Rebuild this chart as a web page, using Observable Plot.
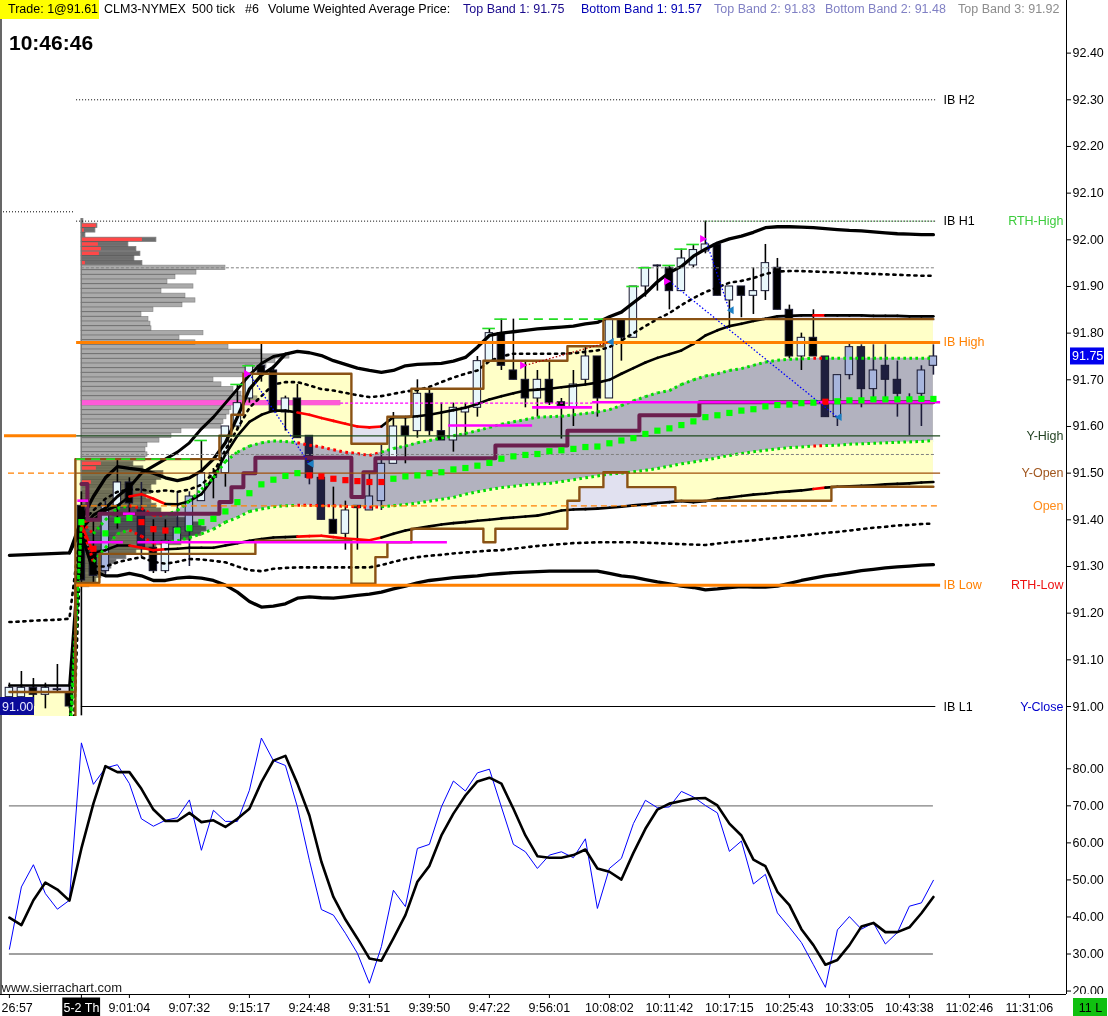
<!DOCTYPE html>
<html>
<head>
<meta charset="utf-8">
<script src="https://cdn.jsdelivr.net/npm/d3@7"></script>
<script src="https://cdn.jsdelivr.net/npm/@observablehq/plot@0.6"></script>
<style>
html,body{margin:0;padding:0;background:#fff;}
body{width:1108px;height:1016px;position:relative;overflow:hidden;font-family:"Liberation Sans",Arial,sans-serif;}
#main{position:absolute;left:0;top:0;}
#osc{position:absolute;left:0;top:716px;}
.hd{position:absolute;top:2px;font-size:12.5px;line-height:15px;white-space:nowrap;}
#tradebox{position:absolute;left:0;top:0;width:99px;height:19px;background:#ffff00;}
#clock{position:absolute;left:9px;top:32px;font-size:21px;line-height:21px;font-weight:bold;color:#000;}
</style>
</head>
<body>
<div id="main"></div>
<div id="osc"></div>
<div id="tradebox"></div>
<div class="hd" style="left:8px;color:#000">Trade: 1@91.61</div>
<div class="hd" style="left:104px;color:#000">CLM3-NYMEX</div>
<div class="hd" style="left:192px;color:#000">500 tick</div>
<div class="hd" style="left:245px;color:#000">#6</div>
<div class="hd" style="left:268px;color:#000">Volume Weighted Average Price:</div>
<div class="hd" style="left:463px;color:#1a0a8c">Top Band 1: 91.75</div>
<div class="hd" style="left:581px;color:#0000b4">Bottom Band 1: 91.57</div>
<div class="hd" style="left:714px;color:#8080c4">Top Band 2: 91.83</div>
<div class="hd" style="left:825px;color:#8080c4">Bottom Band 2: 91.48</div>
<div class="hd" style="left:958px;color:#8c8c8c">Top Band 3: 91.92</div>
<div id="clock">10:46:46</div>
<script>
// ===================== DATA =====================
// time axis (bar index of each label)
const timeTickBars = [0, 6, 10, 15, 20, 25, 30, 35, 40, 45, 50, 55, 60, 65, 70, 75, 80, 85];
const timeTickLabels = ["26:57", "5-2 Th", "9:01:04", "9:07:32", "9:15:17", "9:24:48", "9:31:51", "9:39:50", "9:47:22", "9:56:01", "10:08:02", "10:11:42", "10:17:15", "10:25:43", "10:33:05", "10:43:38", "11:02:46", "11:31:06"];
const priceTicks = [91.00, 91.10, 91.20, 91.30, 91.40, 91.50, 91.60, 91.70, 91.80, 91.90, 92.00, 92.10, 92.20, 92.30, 92.40];
const oscTicks = [20, 30, 40, 50, 60, 70, 80];
const oscRefLevels = [70, 30];

// 500-tick candles (bars 0..77)
const open = [91.02,91.02,91.04,91.025,91.035,91.03,91.43,91.33,91.29,91.43,91.48,91.42,91.34,91.29,91.35,91.375,91.44,91.49,91.50,91.60,91.66,91.73,91.72,91.63,91.66,91.58,91.49,91.40,91.37,91.43,91.42,91.44,91.52,91.60,91.59,91.67,91.59,91.57,91.63,91.64,91.74,91.80,91.72,91.70,91.66,91.70,91.652,91.64,91.70,91.75,91.66,91.83,91.79,91.90,91.945,91.94,91.89,91.945,91.975,91.99,91.87,91.90,91.88,91.89,91.94,91.85,91.75,91.79,91.75,91.62,91.71,91.77,91.68,91.73,91.70,91.67,91.67,91.73];
const high = [91.05,91.075,91.06,91.05,91.09,91.045,91.46,91.40,91.44,91.53,91.49,91.48,91.40,91.40,91.46,91.46,91.57,91.51,91.60,91.69,91.73,91.78,91.73,91.665,91.69,91.58,91.49,91.47,91.44,91.43,91.50,91.56,91.63,91.62,91.70,91.68,91.65,91.65,91.65,91.75,91.81,91.83,91.83,91.74,91.72,91.74,91.66,91.72,91.77,91.75,91.83,91.83,91.90,91.94,91.946,91.945,91.98,91.99,92.04,91.99,91.90,91.90,91.94,91.99,91.96,91.86,91.80,91.85,91.75,91.71,91.78,91.775,91.775,91.775,91.74,91.67,91.73,91.775];
const low = [90.99,91.00,91.00,90.995,91.03,90.995,90.98,91.26,91.28,91.38,91.41,91.32,91.285,91.285,91.35,91.30,91.44,91.445,91.47,91.59,91.65,91.695,91.63,91.59,91.575,91.475,91.40,91.37,91.335,91.335,91.42,91.42,91.52,91.52,91.575,91.58,91.57,91.545,91.58,91.62,91.74,91.72,91.70,91.64,91.62,91.645,91.573,91.60,91.69,91.62,91.66,91.74,91.79,91.877,91.89,91.85,91.89,91.94,91.97,91.88,91.81,91.833,91.84,91.87,91.85,91.745,91.72,91.75,91.62,91.60,91.70,91.64,91.66,91.66,91.62,91.58,91.60,91.71];
const close = [91.04,91.04,91.025,91.04,91.037,91.00,91.27,91.28,91.43,91.48,91.435,91.34,91.29,91.355,91.383,91.45,91.50,91.50,91.60,91.65,91.73,91.715,91.63,91.66,91.575,91.49,91.40,91.37,91.42,91.425,91.45,91.52,91.60,91.58,91.67,91.59,91.57,91.64,91.64,91.74,91.80,91.73,91.70,91.66,91.70,91.65,91.643,91.69,91.75,91.66,91.83,91.79,91.90,91.94,91.943,91.89,91.96,91.978,91.99,91.88,91.90,91.88,91.89,91.95,91.85,91.75,91.79,91.75,91.62,91.71,91.77,91.68,91.72,91.70,91.67,91.67,91.72,91.75];

// VWAP and its standard-deviation bands
const vwap = [null,null,null,null,null,null,91.395,91.338,91.371,91.399,91.404,91.395,91.380,91.377,91.377,91.382,91.395,91.402,91.418,91.438,91.457,91.476,91.486,91.494,91.500,91.495,91.493,91.488,91.485,91.483,91.481,91.481,91.488,91.493,91.495,91.500,91.502,91.508,91.511,91.516,91.522,91.531,91.536,91.539,91.541,91.547,91.549,91.552,91.556,91.557,91.564,91.570,91.575,91.584,91.591,91.596,91.603,91.611,91.620,91.624,91.629,91.634,91.637,91.643,91.646,91.647,91.650,91.651,91.653,91.654,91.656,91.656,91.658,91.658,91.658,91.658,91.659,91.659];
const vwapRedBars = [7, 11, 12, 13, 25, 26, 27, 28, 29, 30, 31, 68];
const band1Top = [90.93,90.93,90.93,90.93,90.93,90.93,91.395,91.37,91.40,91.425,91.43,91.425,91.41,91.41,91.42,91.44,91.465,91.49,91.525,91.545,91.558,91.565,91.569,91.568,91.565,91.56,91.556,91.55,91.545,91.542,91.538,91.545,91.553,91.558,91.565,91.57,91.575,91.58,91.585,91.591,91.598,91.605,91.61,91.615,91.62,91.621,91.622,91.625,91.628,91.631,91.636,91.645,91.655,91.664,91.672,91.677,91.69,91.70,91.708,91.713,91.72,91.724,91.731,91.738,91.742,91.744,91.745,91.746,91.746,91.746,91.746,91.746,91.746,91.746,91.746,91.746,91.746,91.746];
const band1Bottom = [90.90,90.90,90.90,90.90,90.90,90.90,91.39,91.31,91.34,91.37,91.378,91.365,91.35,91.352,91.355,91.362,91.37,91.38,91.395,91.405,91.418,91.423,91.428,91.43,91.431,91.431,91.43,91.43,91.429,91.428,91.427,91.428,91.43,91.433,91.436,91.44,91.444,91.448,91.455,91.46,91.465,91.469,91.472,91.475,91.477,91.478,91.482,91.486,91.49,91.494,91.498,91.50,91.503,91.506,91.51,91.515,91.52,91.524,91.528,91.533,91.538,91.542,91.546,91.549,91.552,91.555,91.556,91.558,91.559,91.56,91.562,91.563,91.564,91.565,91.566,91.567,91.568,91.570];
const band2Top = [91.045,91.045,91.045,91.045,91.045,91.045,91.395,91.40,91.42,91.43,91.45,91.455,91.445,91.434,91.433,91.44,91.455,91.49,91.54,91.58,91.61,91.625,91.634,91.634,91.63,91.625,91.618,91.612,91.606,91.60,91.598,91.60,91.62,91.62,91.622,91.625,91.63,91.635,91.64,91.648,91.658,91.665,91.671,91.677,91.679,91.681,91.684,91.687,91.69,91.694,91.70,91.713,91.725,91.737,91.747,91.755,91.763,91.777,91.795,91.806,91.815,91.82,91.826,91.831,91.836,91.837,91.838,91.838,91.838,91.838,91.838,91.838,91.837,91.837,91.837,91.836,91.836,91.836];
const band2Bottom = [90.95,90.95,90.95,90.95,90.95,90.95,91.39,91.33,91.335,91.345,91.345,91.34,91.335,91.337,91.338,91.34,91.34,91.34,91.345,91.35,91.355,91.359,91.362,91.363,91.364,91.365,91.366,91.363,91.36,91.358,91.356,91.362,91.37,91.377,91.382,91.386,91.39,91.393,91.395,91.398,91.40,91.403,91.405,91.407,91.409,91.414,91.42,91.422,91.423,91.424,91.426,91.428,91.431,91.433,91.436,91.438,91.44,91.438,91.44,91.445,91.448,91.451,91.454,91.456,91.459,91.461,91.463,91.466,91.469,91.471,91.472,91.473,91.474,91.476,91.477,91.478,91.48,91.481];
const band3Top = [91.181,91.182,91.184,91.185,91.186,91.188,91.395,91.42,91.445,91.46,91.465,91.465,91.46,91.463,91.46,91.465,91.475,91.50,91.55,91.595,91.64,91.665,91.69,91.695,91.695,91.688,91.68,91.677,91.672,91.667,91.663,91.665,91.67,91.675,91.678,91.685,91.695,91.705,91.713,91.72,91.74,91.75,91.756,91.756,91.756,91.756,91.756,91.757,91.76,91.763,91.77,91.784,91.80,91.815,91.83,91.843,91.86,91.875,91.888,91.898,91.908,91.912,91.918,91.927,91.932,91.933,91.933,91.932,91.931,91.93,91.929,91.928,91.927,91.926,91.925,91.924,91.923,91.923];
const band3Bottom = [90.70,90.70,90.70,90.70,90.70,90.70,91.39,91.30,91.30,91.309,91.315,91.32,91.31,91.306,91.31,91.316,91.315,91.312,91.309,91.30,91.292,91.29,91.295,91.297,91.298,91.298,91.298,91.298,91.298,91.298,91.298,91.303,91.31,91.316,91.32,91.323,91.325,91.328,91.33,91.332,91.334,91.335,91.338,91.341,91.344,91.346,91.348,91.35,91.351,91.352,91.352,91.352,91.352,91.351,91.35,91.349,91.348,91.347,91.346,91.349,91.352,91.354,91.356,91.359,91.361,91.364,91.366,91.369,91.372,91.374,91.377,91.38,91.383,91.385,91.388,91.389,91.391,91.392];
const band4Top = [91.324,91.325,91.326,91.327,91.328,91.329,91.40,91.45,91.49,91.514,91.51,91.507,91.50,91.49,91.484,91.49,91.505,91.53,91.565,91.62,91.68,91.71,91.727,91.755,91.761,91.758,91.752,91.741,91.733,91.725,91.72,91.716,91.72,91.73,91.733,91.734,91.735,91.74,91.748,91.77,91.795,91.80,91.803,91.806,91.809,91.811,91.813,91.815,91.82,91.823,91.835,91.845,91.865,91.885,91.91,91.93,91.943,91.965,91.98,91.993,92.002,92.008,92.016,92.026,92.028,92.028,92.027,92.026,92.024,92.022,92.02,92.019,92.017,92.015,92.013,92.012,92.011,92.011];
const band4Bottom = [null,null,null,null,null,null,91.37,91.29,91.28,91.28,91.285,91.28,91.27,91.27,91.275,91.277,91.275,91.27,91.26,91.245,91.225,91.213,91.215,91.22,91.232,91.235,91.233,91.232,91.235,91.238,91.241,91.245,91.252,91.258,91.265,91.27,91.273,91.276,91.278,91.28,91.283,91.285,91.287,91.288,91.289,91.29,91.29,91.29,91.29,91.29,91.285,91.28,91.277,91.272,91.267,91.263,91.258,91.255,91.25,91.252,91.255,91.257,91.256,91.256,91.258,91.264,91.27,91.275,91.28,91.283,91.287,91.291,91.294,91.297,91.299,91.301,91.303,91.304];
// second thick envelope line visible during the opening drive
const driveLine = [null,null,null,null,null,91.329,91.38,91.41,91.425,91.45,91.47,91.50,91.515,91.53,91.545,91.565,91.595,91.62,91.65,91.68,91.71,91.735,91.75,91.755,null,null,null,null,null,null,null,null,null,null,null,null,null,null,null,null,null,null,null,null,null,null,null,null,null,null,null,null,null,null,null,null,null,null,null,null,null,null,null,null,null,null,null,null,null,null,null,null,null,null,null,null,null,null];

// developing value area and POC
const vaHigh = [91.031,91.031,91.031,91.031,91.031,91.031,91.53,91.53,91.53,91.53,91.53,91.53,91.53,91.53,91.53,91.53,91.53,91.53,91.58,91.625,91.713,91.713,91.713,91.713,91.713,91.713,91.713,91.713,91.713,91.563,91.563,91.563,91.621,91.621,91.681,91.681,91.681,91.681,91.681,91.681,91.741,91.741,91.741,91.741,91.741,91.741,91.741,91.772,91.772,91.772,91.83,91.83,91.83,91.83,91.83,91.83,91.83,91.83,91.83,91.83,91.83,91.83,91.83,91.83,91.83,91.83,91.83,91.83,91.83,91.83,91.83,91.83,91.83,91.83,91.83,91.83,91.83,91.83];
const vaLow = [90.95,90.95,90.95,90.95,90.95,90.95,91.265,91.265,91.327,91.327,91.327,91.327,91.327,91.327,91.327,91.327,91.327,91.327,91.327,91.327,91.327,91.355,91.355,91.355,91.355,91.355,91.355,91.355,91.355,91.263,91.263,91.32,91.352,91.352,91.381,91.381,91.381,91.381,91.381,91.381,91.352,91.381,91.381,91.381,91.381,91.381,91.381,91.441,91.47,91.47,91.502,91.502,91.47,91.47,91.47,91.47,91.441,91.441,91.441,91.441,91.441,91.441,91.441,91.441,91.441,91.441,91.441,91.441,91.441,91.471,91.471,91.471,91.471,91.471,91.471,91.471,91.471,91.471];
const devPoc = [null,null,null,null,null,null,91.477,91.40,91.413,91.413,91.413,91.413,91.413,91.413,91.413,91.413,91.413,91.413,91.438,91.47,91.50,91.533,91.533,91.533,91.533,91.533,91.533,91.533,91.533,91.449,91.502,91.532,91.532,91.532,91.532,91.532,91.532,91.532,91.532,91.532,91.532,91.559,91.559,91.559,91.559,91.559,91.559,91.591,91.591,91.591,91.591,91.591,91.591,91.624,91.624,91.624,91.624,91.624,91.652,91.652,91.652,91.652,91.652,91.652,91.652,91.652,91.652,91.652,91.652,91.652,91.652,91.652,91.652,91.652,91.652,91.652,91.652,91.652];

// session volume profile (rows 92.04 down to 91.26)
const profileVolume = [2,16,14,4,75,47,55,59,53,61,144,115,94,86,112,80,104,114,101,72,60,67,69,70,122,98,114,147,180,208,194,185,172,162,132,140,152,160,176,259,150,148,145,142,140,100,90,78,66,64,66,64,52,62,82,80,75,70,70,65,70,75,80,95,110,120,125,120,110,100,75,55,45,35,30,25,20,15,8];
const profileSellVolume = [0,15,3,0,61,17,20,18,0,4,0,0,0,0,0,0,0,0,0,0,0,0,0,0,0,0,0,0,0,0,0,0,0,0,0,0,0,0,0,0,0,0,0,0,0,0,0,0,0,0,0,0,20,15,0,0,10,0,0,0,0,0,0,0,0,0,0,0,0,0,0,0,0,0,0,0,0,0,0];
const profileTopPrice = 92.04;
const profileVAH = 91.94, profileVAL = 91.54;

// reference levels
const levelNames = ["IB H2", "IB H1", "IB High", "Y-High", "Y-Open", "Open", "IB Low", "IB L1"];
const levelPrices = [92.30, 92.04, 91.78, 91.58, 91.50, 91.43, 91.26, 91.00];
const priorLevelPrices = [92.06, 91.58, 91.50];
const ibLabelNames = ["IB H2", "IB H1", "IB High", "IB Low", "IB L1"];
const ibLabelPrices = [92.30, 92.04, 91.78, 91.26, 91.00];
const refLabelNames = ["RTH-High", "Y-High", "Y-Open", "Open", "RTH-Low", "Y-Close"];
const refLabelPrices = [92.04, 91.58, 91.50, 91.43, 91.26, 91.00];
const lastPrice = 91.75, yClose = 91.00;

// new-high markers and extended highs
const newHighBars = [16, 19, 20, 40, 41, 52, 53, 55, 56, 57];
const extHighBars = [9, 41], extHighFrom = [5.6, 42.5], extHighTo = [15.1, 49.5];
const rthHighBar = 58;

// magenta reference segments (from bar, to bar, price)
const magFrom = [5.7, 6.6, 9.5, 10.7, 36.6, 43.6, 48.6];
const magTo = [6.6, 9.5, 10.5, 36.5, 43.6, 48.6, 77.6];
const magPrice = [91.441, 91.352, 91.413, 91.352, 91.602, 91.641, 91.652];
const pocRayFrom = 27.6, pocRayTo = 48.6;

// trades (short entries and exits)
const entryBars = [20, 43, 55, 58], entryPrices = [91.713, 91.731, 91.911, 92.002];
const exitBars = [25, 50, 69, 60], exitPrices = [91.52, 91.781, 91.62, 91.849];

// stochastic oscillator
const stochK = [31.3,48.1,54.1,46.3,42.1,44.5,87.0,75.8,80.2,81.1,76.0,66.5,64.5,66.1,66.8,71.6,58.0,68.8,65.8,65.8,74.2,88.3,82.2,80.9,69.7,55.3,42.0,40.5,35.6,30.2,22.1,32.0,47.2,42.8,58.5,59.6,69.7,76.7,74.0,78.9,79.9,69.7,59.6,57.6,53.1,56.7,57.6,56.0,61.1,42.3,53.1,55.8,65.2,71.5,69.5,69.7,73.9,72.4,70.1,68.1,57.7,60.5,48.9,51.5,41.1,37.2,33.1,27.1,21.0,36.5,40.1,36.7,38.4,32.7,35.8,42.9,43.8,49.9];
const stochD = [39.8,37.8,44.5,49.3,47.4,44.4,58.5,70.6,80.7,79.1,79.1,74.6,69.0,65.9,65.9,68.1,65.6,66.1,64.3,66.5,69.2,76.4,82.2,83.5,76.0,67.4,54.9,45.4,39.3,34.2,28.8,28.2,34.2,40.5,49.5,53.8,62.0,67.9,72.8,76.6,77.6,76.0,69.2,62.0,56.4,56.0,56.0,56.7,58.2,53.1,52.2,50.1,57.3,63.8,69.0,70.6,71.3,72.0,72.1,70.1,65.2,62.0,55.5,53.7,46.8,43.2,36.7,32.4,27.1,28.4,32.4,37.4,38.4,35.9,35.9,37.2,41.0,45.4];

// ===================== LAYOUT =====================
const FONT = '"Liberation Sans", Arial, Helvetica, sans-serif';
const W = 1108, MAIN_H = 716, OSC_H = 300, AXIS_X = 1066;
const BAR_PX = 12, BAR0_PX = 8.9;
const px2i = px => (px - BAR0_PX) / BAR_PX;
const xDomain = [px2i(0), px2i(AXIS_X)];
const PRICE_PX = 466.7;                      // pixels per 1.00 of price
const mainTop = 91 + 706 / PRICE_PX;
const mainBottom = mainTop - MAIN_H / PRICE_PX;
const OSC_PX = 3.704, OSC_FRAME = 278;
const oscTop = 80 + 52.3 / OSC_PX;
const oscBottom = oscTop - OSC_FRAME / OSC_PX;
const oscAt = px => oscTop - px / OSC_PX;
const lastBar = open.length - 1;
const sessionBar = 6;

const redSet = new Set(vwapRedBars);
const bars = open.map((o, i) => ({
  i, o, h: high[i], l: low[i], c: close[i],
  vwap: vwap[i], b1t: band1Top[i], b1b: band1Bottom[i], b2t: band2Top[i], b2b: band2Bottom[i],
  b3t: band3Top[i], b3b: band3Bottom[i], b4t: band4Top[i], b4b: band4Bottom[i], drive: driveLine[i],
  vah: vaHigh[i], val: vaLow[i], poc: devPoc[i], red: redSet.has(i)
}));
bars.forEach(d => {
  const mid = (d.o + d.c) / 2;
  d.up = d.c >= d.o;
  d.tint = d.b1b != null && d.i >= sessionBar && mid >= d.b1b && mid <= d.b1t;
});
const segs = key => bars.slice(1)
  .filter(d => d[key] != null && bars[d.i - 1][key] != null)
  .map(d => ({x1: d.i - 1, y1: bars[d.i - 1][key], x2: d.i, y2: d[key], red: d.red}));

const prof = profileVolume.map((v, k) => ({p: +(profileTopPrice - k * 0.01).toFixed(2), v, s: profileSellVolume[k]}));
prof.forEach(d => { d.outside = d.p > profileVAH + 0.001 || d.p < profileVAL - 0.011; });
const pocRow = prof.reduce((a, b) => (b.v > a.v ? b : a));
const PROF_X0 = sessionBar, PROF_UNIT = 1 / BAR_PX;
const rowH = 0.0045;

const lv = n => levelPrices[levelNames.indexOf(n)];
const L0 = sessionBar - 0.4, L1 = lastBar + 0.6, L1s = lastBar + 0.2;

const ibColor = {"IB H2": "#000", "IB H1": "#000", "IB High": "#ff8000", "IB Low": "#ff8000", "IB L1": "#000"};
const refColor = {"RTH-High": "#3ccc3c", "Y-High": "#1f3f1f", "Y-Open": "#a0561e", "Open": "#ff8c1a", "RTH-Low": "#ee1111", "Y-Close": "#0000cc"};
const ibLabels = ibLabelNames.map((t, k) => ({t, p: ibLabelPrices[k]}));
const refLabels = refLabelNames.map((t, k) => ({t, p: refLabelPrices[k]}));

const trades = entryBars.map((b, k) => ({
  eb: b, ep: entryPrices[k], xb: exitBars[k], xp: exitPrices[k],
  win: entryPrices[k] - exitPrices[k] > 0
}));
const mags = magFrom.map((f, k) => ({f, t: magTo[k], p: magPrice[k]}));

const upFill = "#e8f7fb", upTint = "#a7b5dd", dnFill = "#000", dnTint = "#1e1e3e";

const main = Plot.plot({
  width: W, height: MAIN_H,
  marginLeft: 0, marginRight: W - AXIS_X, marginTop: 0, marginBottom: 0,
  x: {domain: xDomain, axis: null},
  y: {domain: [mainBottom, mainTop]},
  style: {fontFamily: FONT, fontSize: "12.5px", background: "white", color: "black", overflow: "visible"},
  marks: [
    // band / value area fills
    Plot.areaY(bars, {x: "i", y1: "b2b", y2: "b2t", fill: "#e1e1f0", clip: true}),
    Plot.areaY(bars, {x: "i", y1: "val", y2: "vah", fill: "#ffffc8", curve: "step", mixBlendMode: "multiply", clip: true}),
    Plot.areaY(bars, {x: "i", y1: "b1b", y2: "b1t", fill: "#b2b2bf", clip: true}),
    // volume profile
    Plot.rect(prof, {x1: PROF_X0, x2: d => PROF_X0 + d.v * PROF_UNIT, y1: d => d.p - rowH, y2: d => d.p + rowH,
      fill: d => d.outside ? "#6e6e6e" : "#aaaaaa",
      stroke: d => d.outside ? "#7e7e7e" : "#8e8e8e", strokeWidth: 0.8, mixBlendMode: "multiply"}),
    Plot.rect(prof.filter(d => d.s > 0), {x1: PROF_X0 + 0.05, x2: d => PROF_X0 + d.s * PROF_UNIT, y1: d => d.p - rowH + 0.0008, y2: d => d.p + rowH - 0.0008, fill: "#ff4848"}),
    Plot.rect([pocRow], {x1: PROF_X0, x2: d => PROF_X0 + d.v * PROF_UNIT, y1: d => d.p - rowH - 0.001, y2: d => d.p + rowH + 0.001, fill: "#ff5ad8"}),
    Plot.ruleX([PROF_X0], {y1: prof[prof.length - 1].p - 0.005, y2: prof[0].p + 0.005, stroke: "#777", strokeWidth: 1}),
    // candles
    Plot.ruleX(bars, {x: "i", y1: "l", y2: "h", stroke: d => d.tint ? "#1c1c3a" : "#000", strokeWidth: 1.6}),
    Plot.rect(bars, {x1: d => d.i - 0.31, x2: d => d.i + 0.31, y1: d => Math.min(d.o, d.c), y2: d => Math.max(d.o, d.c),
      fill: d => d.up ? (d.tint ? upTint : upFill) : (d.tint ? dnTint : dnFill), stroke: "#181830", strokeWidth: 1}),
    // VWAP bands
    Plot.line(bars, {x: "i", y: "b4t", stroke: "#000", strokeWidth: 3.3, clip: true}),
    Plot.line(bars, {x: "i", y: "b4b", stroke: "#000", strokeWidth: 3.3, clip: true}),
    Plot.line(bars, {x: "i", y: "drive", stroke: "#000", strokeWidth: 3, clip: true}),
    Plot.line(bars, {x: "i", y: "b3t", stroke: "#000", strokeWidth: 2.6, strokeDasharray: "2.2,4.8", clip: true}),
    Plot.line(bars, {x: "i", y: "b3b", stroke: "#000", strokeWidth: 2.6, strokeDasharray: "2.2,4.8", clip: true}),
    Plot.link(segs("b2t"), {x1: "x1", y1: "y1", x2: "x2", y2: "y2", stroke: d => d.red ? "#ff0000" : "#000", strokeWidth: 2.6, strokeLinecap: "round", clip: true}),
    Plot.link(segs("b2b"), {x1: "x1", y1: "y1", x2: "x2", y2: "y2", stroke: d => d.red ? "#ff0000" : "#000", strokeWidth: 2.6, strokeLinecap: "round", clip: true}),
    Plot.link(segs("b1t"), {x1: "x1", y1: "y1", x2: "x2", y2: "y2", stroke: d => d.red ? "#ff0000" : "#00dd00", strokeWidth: 3, strokeDasharray: "2.6,3.4", clip: true}),
    Plot.link(segs("b1b"), {x1: "x1", y1: "y1", x2: "x2", y2: "y2", stroke: d => d.red ? "#ff0000" : "#00dd00", strokeWidth: 3, strokeDasharray: "2.6,3.4", clip: true}),
    // value area outline and developing POC
    Plot.line(bars, {x: "i", y: "vah", curve: "step", stroke: "#8a5214", strokeWidth: 2.4, clip: true}),
    Plot.line(bars, {x: "i", y: "val", curve: "step", stroke: "#8a5214", strokeWidth: 2.4, clip: true}),
    Plot.line(bars, {x: "i", y: "poc", curve: "step", stroke: "#6b1f4e", strokeWidth: 4}),
    // reference levels
    Plot.ruleY([lv("IB H2"), lv("IB H1")], {x1: L0, x2: L1s, stroke: "#000", strokeWidth: 1, strokeDasharray: "1,2"}),
    Plot.ruleY([priorLevelPrices[0]], {x1: px2i(3), x2: px2i(75), stroke: "#000", strokeWidth: 1, strokeDasharray: "1,2"}),
    Plot.ruleY([high[rthHighBar]], {x1: rthHighBar, x2: L1s, stroke: "#2a9a2a", strokeWidth: 1, strokeDasharray: "1,2"}),
    Plot.ruleY([profileVAH, profileVAL], {x1: PROF_X0, x2: L1s, stroke: "#808080", strokeWidth: 1, strokeDasharray: "3,2"}),
    Plot.ruleY([lv("Y-High")], {x1: L0, x2: L1, stroke: "#1e4a1e", strokeWidth: 1.2}),
    Plot.ruleY([lv("Y-Open")], {x1: L0, x2: L1, stroke: "#a0500a", strokeWidth: 1.3}),
    Plot.ruleY([lv("Open")], {x1: PROF_X0, x2: L1, stroke: "#ff8000", strokeWidth: 1.3, strokeDasharray: "6,4"}),
    Plot.ruleY([lv("IB L1")], {x1: PROF_X0, x2: L1s, stroke: "#000", strokeWidth: 1}),
    Plot.ruleY([lv("IB High"), lv("IB Low")], {x1: L0, x2: L1, stroke: "#ff8000", strokeWidth: 3}),
    Plot.ruleY([priorLevelPrices[1]], {x1: px2i(4), x2: L0, stroke: "#ff8000", strokeWidth: 3}),
    Plot.ruleY([priorLevelPrices[2]], {x1: px2i(8), x2: L0, stroke: "#ff8000", strokeWidth: 1.3, strokeDasharray: "6,4"}),
    // magenta segments
    Plot.ruleY(mags, {y: "p", x1: "f", x2: "t", stroke: "#ff00ff", strokeWidth: 2.6}),
    Plot.ruleY([pocRow.p], {x1: pocRayFrom, x2: pocRayTo, stroke: "#ff00ff", strokeWidth: 1.3, strokeDasharray: "3,2"}),
    // VWAP
    Plot.dot(bars.filter(d => d.vwap != null), {x: "i", y: "vwap", symbol: "square", r: 3.5, fill: d => d.red ? "#ff0000" : "#00ff00", stroke: "none"}),
    // new-high markers
    Plot.ruleY(newHighBars, {y: b => high[b], x1: b => b - 0.55, x2: b => b + 0.5, stroke: "#22dd22", strokeWidth: 1.6}),
    Plot.ruleY(extHighBars.map((b, k) => ({p: high[b], f: extHighFrom[k], t: extHighTo[k]})), {y: "p", x1: "f", x2: "t", stroke: "#22dd22", strokeWidth: 1.6, strokeDasharray: "9,6"}),
    // trades
    Plot.link(trades, {x1: "eb", y1: "ep", x2: "xb", y2: "xp", stroke: d => d.win ? "#0000ff" : "#aa0000", strokeWidth: 1.3, strokeDasharray: "1.5,2"}),
    Plot.dot(trades, {x: "eb", y: "ep", dx: -3, symbol: "triangle", rotate: 90, r: 2.9, fill: "#ff00ff", stroke: "none"}),
    Plot.dot(trades, {x: "xb", y: "xp", dx: 2, symbol: "triangle", rotate: -90, r: 2.9, fill: "#1c7fc4", stroke: "none"}),
    // right-side labels
    Plot.text(ibLabels, {x: px2i(943), y: "p", text: "t", textAnchor: "start", fill: d => ibColor[d.t], fontSize: 12.5}),
    Plot.text(refLabels, {x: px2i(1063), y: "p", text: "t", textAnchor: "end", fill: d => refColor[d.t], fontSize: 12.5}),
    // frame
    Plot.ruleX([px2i(0.5)], {stroke: "#000", strokeWidth: 1.2}),
    Plot.ruleX([xDomain[1]], {stroke: "#000", strokeWidth: 1}),
    Plot.axisY(priceTicks, {anchor: "right", tickSize: 4, tickPadding: 2, tickFormat: d => d.toFixed(2), label: null, fontSize: 12.5}),
    // last price and Y-close boxes
    Plot.rect([lastPrice], {x1: px2i(1070), x2: px2i(1104), y1: d => d - 8.5 / PRICE_PX, y2: d => d + 8.5 / PRICE_PX, fill: "#0000ee"}),
    Plot.text([lastPrice], {x: px2i(1071.5), y: d => d, text: d => d.toFixed(2), textAnchor: "start", fill: "white", fontSize: 12.5}),
    Plot.rect([yClose], {x1: xDomain[0], x2: px2i(34), y1: d => d - 9 / PRICE_PX, y2: d => d + 9 / PRICE_PX, fill: "#0b0b99"}),
    Plot.text([yClose], {x: px2i(1.5), y: d => d, text: d => d.toFixed(2), textAnchor: "start", fill: "#e8e8ff", fontSize: 12.5})
  ]
});
document.getElementById("main").appendChild(main);

// ===================== OSCILLATOR =====================
const osc = stochK.map((k, i) => ({i, k, d: stochD[i]}));
const timeTicks = timeTickBars.map((b, k) => ({b, t: timeTickLabels[k]}));
const oscPlot = Plot.plot({
  width: W, height: OSC_H,
  marginLeft: 0, marginRight: W - AXIS_X, marginTop: 0, marginBottom: OSC_H - OSC_FRAME,
  x: {domain: xDomain, axis: null},
  y: {domain: [oscBottom, oscTop]},
  style: {fontFamily: FONT, fontSize: "12.5px", background: "white", color: "black", overflow: "visible"},
  marks: [
    Plot.ruleY(oscRefLevels, {x1: 0, x2: lastBar, stroke: "#808080", strokeWidth: 1.3}),
    Plot.line(osc, {x: "i", y: "k", stroke: "#0000ff", strokeWidth: 1}),
    Plot.line(osc, {x: "i", y: "d", stroke: "#000", strokeWidth: 2.6}),
    Plot.axisY(oscTicks, {anchor: "right", tickSize: 4, tickPadding: 2, tickFormat: d => d.toFixed(2), label: null, fontSize: 12.5}),
    Plot.rect([0], {x1: xDomain[0], x2: px2i(W), y1: oscAt(OSC_H), y2: oscBottom, fill: "white"}),
    Plot.ruleX([px2i(0.5)], {y1: oscBottom, y2: oscTop, stroke: "#000", strokeWidth: 1.2}),
    Plot.ruleX([xDomain[1]], {y1: oscBottom, y2: oscTop, stroke: "#000", strokeWidth: 1}),
    Plot.ruleY([oscBottom], {x1: xDomain[0], x2: xDomain[1], stroke: "#000", strokeWidth: 1}),
    Plot.ruleX(timeTickBars, {x: d => d, y1: oscBottom, y2: oscAt(OSC_FRAME + 4), stroke: "#000", strokeWidth: 1}),
    Plot.text(["www.sierrachart.com"], {x: px2i(1), y: oscAt(271), text: d => d, textAnchor: "start", fill: "#202020", fontSize: 13}),
    Plot.rect([timeTicks[1]], {x1: d => d.b - 1.55, x2: d => d.b + 1.6, y1: oscAt(OSC_H), y2: oscAt(OSC_FRAME + 3.5), fill: "#000"}),
    Plot.text([timeTicks[0]], {x: px2i(1), y: oscAt(291), text: "t", textAnchor: "start", fill: "#000", fontSize: 12.5}),
    Plot.text([timeTicks[1]], {x: "b", y: oscAt(291), text: "t", fill: "#fff", fontSize: 12.5}),
    Plot.text(timeTicks.slice(2), {x: "b", y: oscAt(291), text: "t", fill: "#000", fontSize: 12.5}),
    Plot.rect(["11 L"], {x1: px2i(1073), x2: px2i(1107), y1: oscAt(OSC_H), y2: oscAt(OSC_FRAME + 4), fill: "#10c010"}),
    Plot.text(["11 L"], {x: px2i(1090), y: oscAt(291), text: d => d, fill: "#000", fontSize: 12.5})
  ]
});
document.getElementById("osc").appendChild(oscPlot);
</script>
</body>
</html>
